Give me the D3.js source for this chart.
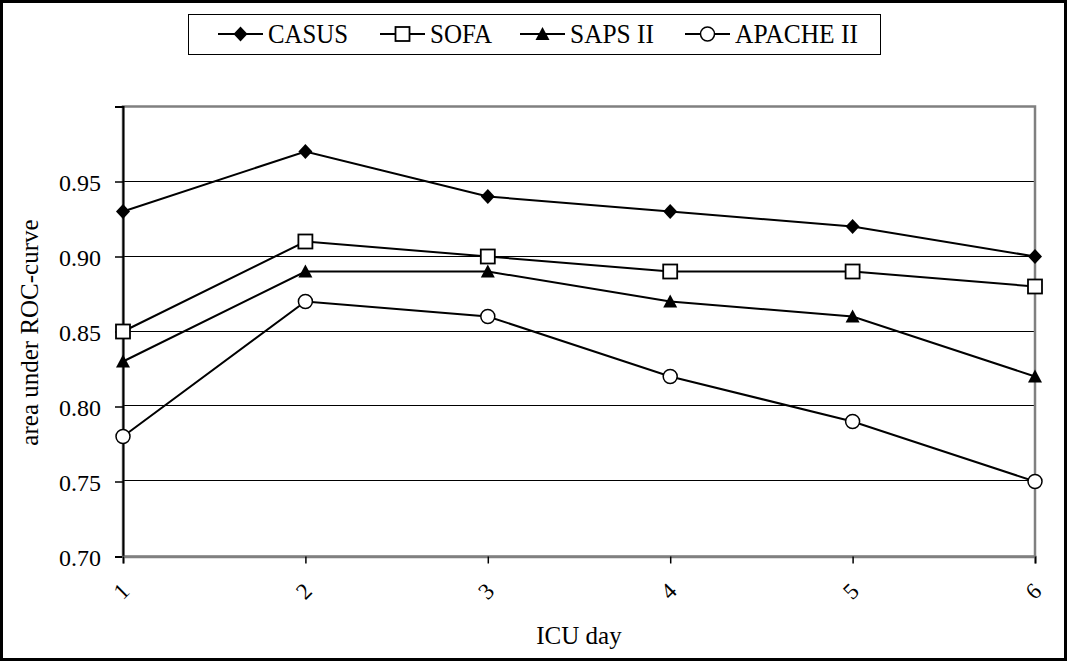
<!DOCTYPE html>
<html>
<head>
<meta charset="utf-8">
<script src="https://cdn.jsdelivr.net/npm/d3@7"></script>
<style>
  body { margin: 0; background: #fff; }
  text { font-family: "Liberation Serif", "DejaVu Serif", serif; fill: #000; }
</style>
</head>
<body>
<svg id="chart" width="1069" height="663"></svg>
<script>
// data
const days = [1, 2, 3, 4, 5, 6];
const casus = [0.93, 0.97, 0.94, 0.93, 0.92, 0.90];
const sofa = [0.85, 0.91, 0.90, 0.89, 0.89, 0.88];
const saps = [0.83, 0.89, 0.89, 0.87, 0.86, 0.82];
const apache = [0.78, 0.87, 0.86, 0.82, 0.79, 0.75];
const seriesNames = ["CASUS", "SOFA", "SAPS II", "APACHE II"];
const yTicks = [0.70, 0.75, 0.80, 0.85, 0.90, 0.95];

const series = [
  { name: seriesNames[0], values: casus, marker: "diamond" },
  { name: seriesNames[1], values: sofa, marker: "square" },
  { name: seriesNames[2], values: saps, marker: "triangle" },
  { name: seriesNames[3], values: apache, marker: "circle" }
];

const svg = d3.select("#chart");
const plotL = 123, plotR = 1035, plotT = 106.5, plotB = 556.5;

const x = d3.scaleLinear().domain([1, 6]).range([plotL, plotR]);
const y = d3.scaleLinear().domain([0.70, 1.00]).range([plotB, plotT]);

// outer border
svg.append("rect")
  .attr("x", 1.5).attr("y", 1.5)
  .attr("width", 1064).attr("height", 658)
  .attr("fill", "none").attr("stroke", "#000").attr("stroke-width", 3);

// gridlines
svg.append("g")
  .selectAll("line")
  .data(yTicks.filter(d => d > 0.7))
  .enter().append("line")
  .attr("x1", plotL).attr("x2", plotR)
  .attr("y1", d => Math.round(y(d)) - 0.5).attr("y2", d => Math.round(y(d)) - 0.5)
  .attr("stroke", "#000").attr("stroke-width", 1)
  .attr("shape-rendering", "crispEdges");

// plot frame (grey)
svg.append("rect")
  .attr("x", plotL).attr("y", plotT)
  .attr("width", plotR - plotL).attr("height", plotB - plotT)
  .attr("fill", "none").attr("stroke", "#808080").attr("stroke-width", 2.5);

// y axis
const yAxis = svg.append("g")
  .attr("transform", `translate(${plotL},0)`)
  .call(d3.axisLeft(y).tickValues(yTicks).tickFormat(d3.format(".2f")).tickSize(8).tickPadding(14));
yAxis.select(".domain").attr("stroke", "#000").attr("stroke-width", 2);
yAxis.selectAll(".tick line").attr("stroke", "#000").attr("stroke-width", 1.5);
yAxis.selectAll(".tick text")
  .attr("fill", "#000")
  .attr("dy", "0.36em")
  .style("font-family", "'Liberation Serif', serif")
  .style("font-size", "24px");

// x axis
const xAxis = svg.append("g")
  .attr("transform", `translate(0,${plotB})`)
  .call(d3.axisBottom(x).tickValues(days).tickFormat(d3.format("d")).tickSize(7).tickPadding(0));
xAxis.select(".domain").attr("stroke", "#808080").attr("stroke-width", 2.5);
xAxis.selectAll(".tick line").attr("stroke", "#000").attr("stroke-width", 1.5);
xAxis.selectAll(".tick text")
  .attr("fill", "#000")
  .attr("text-anchor", "middle")
  .attr("dy", null)
  .attr("y", null)
  .attr("transform", "translate(-2,35) rotate(-45)")
  .attr("dominant-baseline", "central")
  .style("font-family", "'Liberation Serif', serif")
  .style("font-size", "23px");

// axis titles
svg.append("text")
  .attr("transform", `translate(38,${(plotT + plotB) / 2 + 1}) rotate(-90)`)
  .attr("text-anchor", "middle")
  .style("font-size", "25px")
  .text("area under ROC-curve");

svg.append("text")
  .attr("x", 579).attr("y", 644)
  .attr("text-anchor", "middle")
  .style("font-size", "25px")
  .text("ICU day");

// markers
function drawMarker(g, type, cx, cy) {
  if (type === "diamond") {
    g.append("path")
      .attr("d", `M${cx},${cy - 7.5}L${cx + 7},${cy}L${cx},${cy + 7.5}L${cx - 7},${cy}Z`)
      .attr("fill", "#000");
  } else if (type === "square") {
    g.append("rect")
      .attr("x", cx - 7).attr("y", cy - 7)
      .attr("width", 14).attr("height", 14)
      .attr("fill", "#fff").attr("stroke", "#000").attr("stroke-width", 1.8);
  } else if (type === "triangle") {
    g.append("path")
      .attr("d", `M${cx},${cy - 7}L${cx + 7},${cy + 6}L${cx - 7},${cy + 6}Z`)
      .attr("fill", "#000");
  } else {
    g.append("circle")
      .attr("cx", cx).attr("cy", cy).attr("r", 7)
      .attr("fill", "#fff").attr("stroke", "#000").attr("stroke-width", 1.5);
  }
}

const line = d3.line()
  .x((d, i) => x(days[i]))
  .y(d => y(d));

series.forEach(s => {
  const g = svg.append("g");
  g.append("path")
    .attr("d", line(s.values))
    .attr("fill", "none")
    .attr("stroke", "#000")
    .attr("stroke-width", 2);
  s.values.forEach((v, i) => drawMarker(g, s.marker, x(days[i]), y(v)));
});

// legend
svg.append("rect")
  .attr("x", 188.5).attr("y", 14.5)
  .attr("width", 692).attr("height", 40)
  .attr("fill", "#fff").attr("stroke", "#000").attr("stroke-width", 1);

const legendX = [218, 380, 520, 685];
const legendW = [80, 62, 84, 123];
series.forEach((s, i) => {
  const g = svg.append("g");
  const lx = legendX[i], ly = 34;
  g.append("line")
    .attr("x1", lx).attr("x2", lx + 45)
    .attr("y1", ly).attr("y2", ly)
    .attr("stroke", "#000").attr("stroke-width", 2);
  drawMarker(g, s.marker, lx + 22.5, ly);
  g.append("text")
    .attr("x", lx + 50).attr("y", 43)
    .attr("textLength", legendW[i])
    .attr("lengthAdjust", "spacingAndGlyphs")
    .style("font-size", "27px")
    .text(s.name);
});
</script>
</body>
</html>
